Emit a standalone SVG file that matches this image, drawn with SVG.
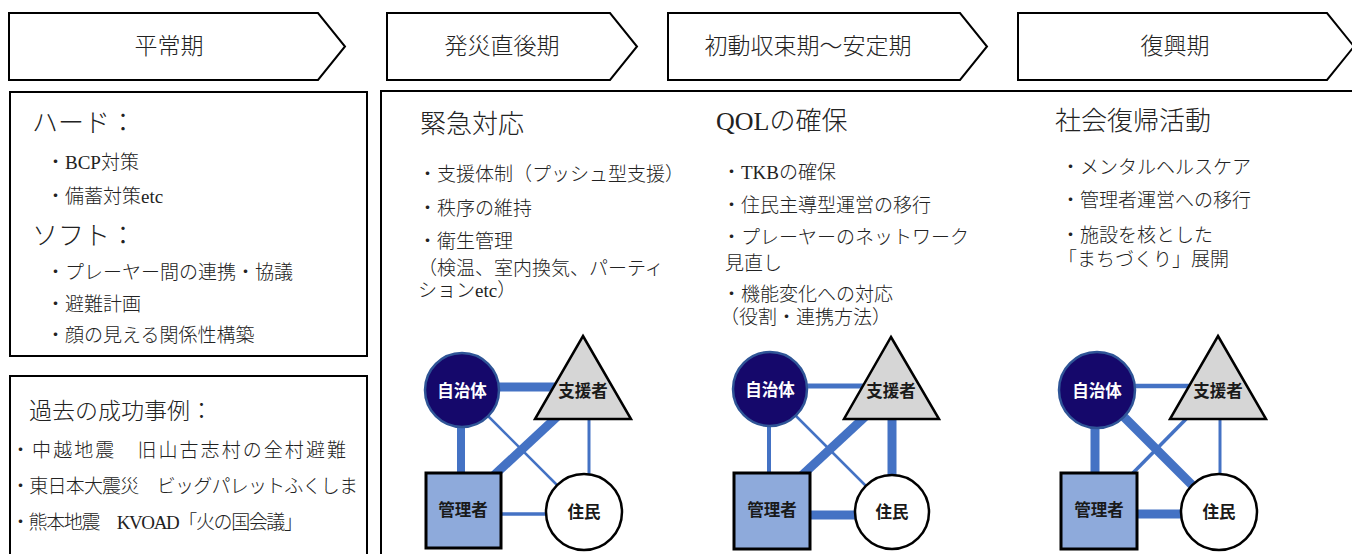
<svg xmlns="http://www.w3.org/2000/svg" width="1352" height="554" viewBox="0 0 1352 554">
<style>
.frame{fill:#fff;stroke:#000;stroke-width:2}
.arrow{fill:#fff;stroke:#000;stroke-width:2;stroke-linejoin:miter}
.t{font-family:"Liberation Serif","Noto Sans CJK JP",serif;fill:#222;font-weight:300}
.hdr{font-size:23px;text-anchor:middle}
.h1{font-size:26px}
.h2{font-size:23px}
.b{font-size:19px}
.ln{stroke:#4472c4;fill:none}
.lg{fill:#15086b;stroke:#2f5597;stroke-width:2.5}
.sup{fill:#d6d6d6;stroke:#000;stroke-width:2.5;stroke-linejoin:miter}
.mgr{fill:#8eaadb;stroke:#000;stroke-width:3}
.res{fill:#fff;stroke:#000;stroke-width:2.5}
.nl{font-family:"Noto Sans CJK JP",sans-serif;font-size:16.5px;font-weight:bold;text-anchor:middle;fill:#1a1a1a}
.w{fill:#fff}
</style>
<rect x="0" y="0" width="1352" height="554" fill="#fff"/>

<g id="phase-heijo">
<polygon class="arrow" points="9,13 318,13 345,46.5 318,80 9,80"/>
<text class="t hdr" x="169" y="54">平常期</text>
</g>
<g id="phase-hassai">
<polygon class="arrow" points="387,13 610,13 637,46.5 610,80 387,80"/>
<text class="t hdr" x="502" y="54">発災直後期</text>
</g>
<g id="phase-shodo">
<polygon class="arrow" points="668,13 960,13 987,46.5 960,80 668,80"/>
<text class="t hdr" x="808" y="54">初動収束期〜安定期</text>
</g>
<g id="phase-fukko">
<polygon class="arrow" points="1018,13 1327,13 1354,46.5 1327,80 1018,80"/>
<text class="t hdr" x="1175" y="54">復興期</text>
</g>

<g id="box-heijo">
<rect class="frame" x="10" y="92" width="357" height="264"/>
<text class="t h1" x="32" y="131.5">ハード：</text>
<text class="t b" x="46" y="169">・BCP対策</text>
<text class="t b" x="46" y="203">・備蓄対策etc</text>
<text class="t h1" x="32" y="244.5">ソフト：</text>
<text class="t b" x="46" y="279">・プレーヤー間の連携・協議</text>
<text class="t b" x="46" y="311">・避難計画</text>
<text class="t b" x="46" y="342">・顔の見える関係性構築</text>
</g>

<g id="box-jirei">
<rect class="frame" x="10" y="376" width="357" height="200"/>
<text class="t h2" x="29" y="418.5">過去の成功事例：</text>
<text class="t b" x="11" y="457" textLength="335">・中越地震　旧山古志村の全村避難</text>
<text class="t b" x="11" y="493" textLength="347">・東日本大震災　ビッグパレットふくしま</text>
<text class="t b" x="11" y="529" textLength="292">・熊本地震　KVOAD「火の国会議」</text>
</g>

<g id="box-phases">
<rect class="frame" x="381" y="91" width="1000" height="500"/>
</g>

<g id="col-kinkyu">
<text class="t h1" x="420" y="132.5">緊急対応</text>
<text class="t b" x="418" y="181">・支援体制（プッシュ型支援）</text>
<text class="t b" x="418" y="215">・秩序の維持</text>
<text class="t b" x="418" y="248">・衛生管理</text>
<text class="t b" x="418" y="275">（検温、室内換気、パーティ</text>
<text class="t b" x="418" y="297">ションetc）</text>
</g>

<g id="col-qol">
<text class="t h1" x="716" y="129.5">QOLの確保</text>
<text class="t b" x="722" y="179">・TKBの確保</text>
<text class="t b" x="722" y="212">・住民主導型運営の移行</text>
<text class="t b" x="722" y="244">・プレーヤーのネットワーク</text>
<text class="t b" x="725" y="270">見直し</text>
<text class="t b" x="722" y="301">・機能変化への対応</text>
<text class="t b" x="720" y="324">（役割・連携方法）</text>
</g>

<g id="col-fukki">
<text class="t h1" x="1055" y="129.5">社会復帰活動</text>
<text class="t b" x="1061" y="174">・メンタルヘルスケア</text>
<text class="t b" x="1061" y="207">・管理者運営への移行</text>
<text class="t b" x="1061" y="242">・施設を核とした</text>
<text class="t b" x="1058" y="266">「まちづくり」展開</text>
</g>

<g id="connectors">
<!-- diagram 1 -->
<line class="ln" x1="462" y1="387" x2="583" y2="387" stroke-width="9"/>
<line class="ln" x1="461" y1="390" x2="461" y2="510" stroke-width="8"/>
<line class="ln" x1="490" y1="479" x2="560" y2="414" stroke-width="9"/>
<line class="ln" x1="480" y1="408" x2="565" y2="493" stroke-width="2.5"/>
<line class="ln" x1="589" y1="410" x2="589" y2="490" stroke-width="3"/>
<line class="ln" x1="463" y1="514" x2="584" y2="514" stroke-width="3.5"/>
<!-- diagram 2 -->
<line class="ln" x1="770" y1="386" x2="891" y2="386" stroke-width="5"/>
<line class="ln" x1="769" y1="389" x2="769" y2="511" stroke-width="4"/>
<line class="ln" x1="798" y1="479" x2="868" y2="414" stroke-width="9"/>
<line class="ln" x1="788" y1="408" x2="873" y2="493" stroke-width="2.5"/>
<line class="ln" x1="892" y1="400" x2="892" y2="512" stroke-width="9"/>
<line class="ln" x1="772" y1="515" x2="892" y2="515" stroke-width="9"/>
<!-- diagram 3 -->
<line class="ln" x1="1097" y1="386" x2="1218" y2="386" stroke-width="4.5"/>
<line class="ln" x1="1095" y1="390" x2="1095" y2="511" stroke-width="9"/>
<line class="ln" x1="1127" y1="479" x2="1191" y2="414" stroke-width="3.5"/>
<line class="ln" x1="1115" y1="408" x2="1200" y2="493" stroke-width="9"/>
<line class="ln" x1="1220" y1="410" x2="1220" y2="490" stroke-width="3"/>
<line class="ln" x1="1099" y1="514" x2="1219" y2="514" stroke-width="9"/>
</g>

<g id="d1-jichitai"><circle class="lg" cx="462" cy="390" r="37"/><text class="nl w" x="462" y="397">自治体</text></g>
<g id="d1-shiensha"><polygon class="sup" points="583,336 631,419 535,419"/><text class="nl" x="583" y="397">支援者</text></g>
<g id="d1-kanrisha"><rect class="mgr" x="426" y="473" width="75" height="75"/><text class="nl" x="463" y="516">管理者</text></g>
<g id="d1-jumin"><circle class="res" cx="584" cy="512" r="38"/><text class="nl" x="584" y="518">住民</text></g>

<g id="d2-jichitai"><circle class="lg" cx="770" cy="389" r="37"/><text class="nl w" x="770" y="396">自治体</text></g>
<g id="d2-shiensha"><polygon class="sup" points="891,337 939,419 844,419"/><text class="nl" x="891" y="397">支援者</text></g>
<g id="d2-kanrisha"><rect class="mgr" x="734" y="473" width="76" height="76"/><text class="nl" x="772" y="516">管理者</text></g>
<g id="d2-jumin"><circle class="res" cx="892" cy="512" r="37"/><text class="nl" x="892" y="518">住民</text></g>

<g id="d3-jichitai"><circle class="lg" cx="1097" cy="390" r="38"/><text class="nl w" x="1097" y="397">自治体</text></g>
<g id="d3-shiensha"><polygon class="sup" points="1218,336 1266,419 1170,419"/><text class="nl" x="1218" y="397">支援者</text></g>
<g id="d3-kanrisha"><rect class="mgr" x="1061" y="473" width="76" height="76"/><text class="nl" x="1099" y="516">管理者</text></g>
<g id="d3-jumin"><circle class="res" cx="1219" cy="512" r="38"/><text class="nl" x="1219" y="518">住民</text></g>
</svg>
